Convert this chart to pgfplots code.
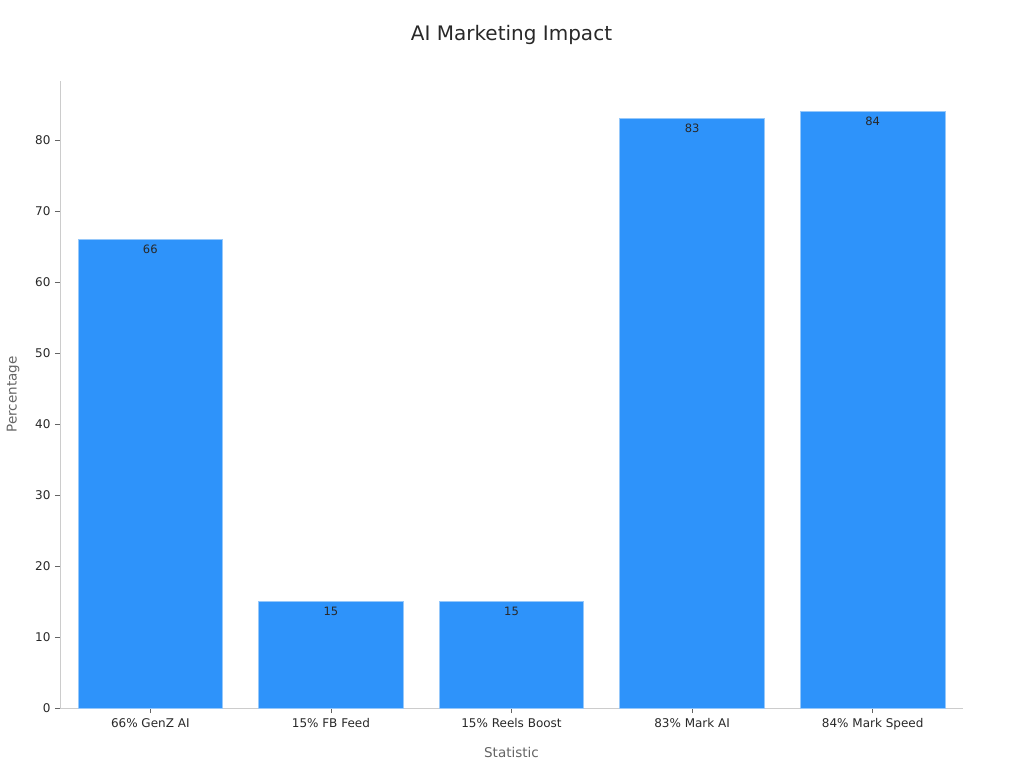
\documentclass[border=0pt]{standalone}
\usepackage{pgfplots}
\pgfplotsset{compat=1.18}
\usepackage{fontspec}
\setmainfont{DejaVu Sans}
\definecolor{barblue}{RGB}{46,147,250}
\definecolor{baredge}{RGB}{150,200,250}
\definecolor{axisgray}{RGB}{204,204,204}
\definecolor{labgray}{RGB}{100,100,100}
\definecolor{txt}{RGB}{40,40,40}
\begin{document}
\begin{tikzpicture}
\begin{axis}[
    at={(0pt,0pt)}, anchor=south west,
    scale only axis,
    width=903pt, height=627pt,
    xmin=-0.5, xmax=4.5,
    ymin=0, ymax=88.3,
    ybar, bar width=0.8,
    axis x line*=bottom, axis y line*=left,
    axis line style={axisgray, line width=0.8pt},
    xtick=data,
    xticklabels={66\% GenZ AI, 15\% FB Feed, 15\% Reels Boost, 83\% Mark AI, 84\% Mark Speed},
    ytick={0,10,...,80},
    tick align=outside,
    major tick length=5pt,
    tick style={labgray, line width=0.8pt},
    every tick label/.append style={font=\fontsize{12}{14}\selectfont, text=txt},
    /pgf/number format/assume math mode=true,
    xticklabel style={yshift=-2pt},
    yticklabel style={xshift=-1pt},
    xlabel={Statistic}, ylabel={Percentage},
    label style={font=\fontsize{13.5}{16}\selectfont, text=labgray},
    xlabel style={yshift=-10pt},
    ylabel style={yshift=9pt},
    nodes near coords,
    every node near coord/.append style={anchor=north, yshift=-4pt, inner sep=1pt,
        font=\fontsize{11.5}{13}\selectfont, text=txt},
    clip=false,
]
\addplot[fill=barblue, draw=baredge, line width=0.8pt, bar shift=0pt]
coordinates {(0,66) (1,15) (2,15) (3,83) (4,84)};
\end{axis}
\node[font=\fontsize{20}{24}\selectfont, text=txt] at (451.5pt,673pt) {AI Marketing Impact};
\path[use as bounding box] (-60pt,-60pt) rectangle (964pt,708pt);
\end{tikzpicture}
\end{document}
